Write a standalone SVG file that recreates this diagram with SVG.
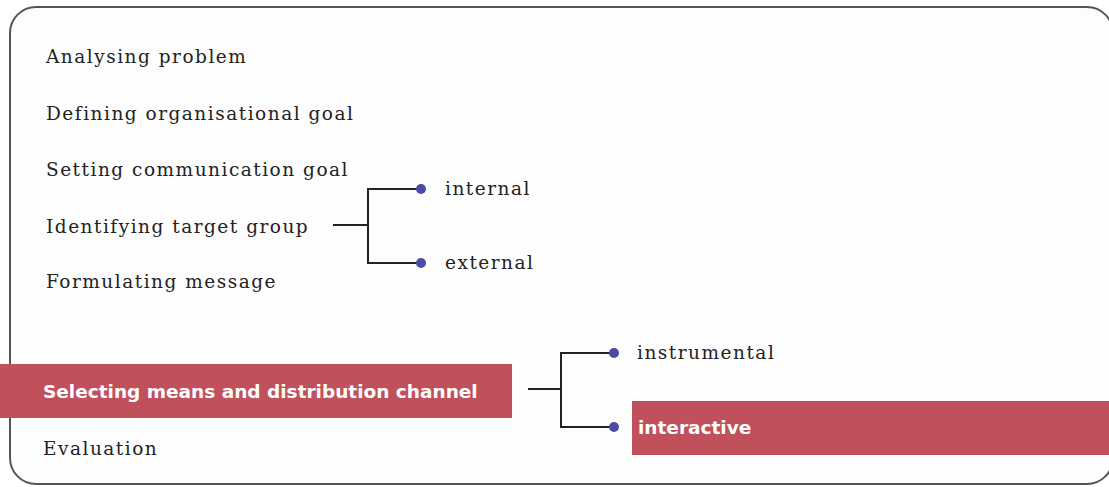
<svg xmlns="http://www.w3.org/2000/svg" width="1109" height="487" viewBox="0 0 1109 487">
  <style>
    .step { font-family: "DejaVu Serif", "Liberation Serif", serif; font-size: 18.5px; fill: #222; letter-spacing: 1.5px; }
    .hl { font-family: "DejaVu Sans", "Liberation Sans", sans-serif; font-size: 18.5px; font-weight: bold; fill: #fff; }
    .bar { fill: #c0515c; }
    .wire { fill: none; stroke: #222; stroke-width: 2; }
    .dot { fill: #4b4aa5; }
  </style>
  <rect x="0" y="0" width="1109" height="487" fill="#fff"/>
  <rect id="frame" x="10" y="7" width="1103" height="477" rx="26" ry="26" fill="#fdfdfd" stroke="#555" stroke-width="2"/>

  <g id="analysing"><text class="step" x="46" y="63">Analysing problem</text></g>
  <g id="defining"><text class="step" x="46" y="120">Defining organisational goal</text></g>
  <g id="setting"><text class="step" x="46" y="176">Setting communication goal</text></g>
  <g id="identifying"><text class="step" x="46" y="233">Identifying target group</text></g>
  <g id="formulating"><text class="step" x="46" y="288">Formulating message</text></g>
  <g id="selecting">
    <rect class="bar" x="0" y="364" width="512" height="54"/>
    <text class="hl" x="43" y="398">Selecting means and distribution channel</text>
  </g>
  <g id="evaluation"><text class="step" x="43" y="455">Evaluation</text></g>

  <g id="internal"><text class="step" x="445" y="195">internal</text></g>
  <g id="external"><text class="step" x="445" y="269">external</text></g>
  <g id="instrumental"><text class="step" x="637" y="359">instrumental</text></g>
  <g id="interactive">
    <rect class="bar" x="632" y="401" width="477" height="54"/>
    <text class="hl" x="638" y="434">interactive</text>
  </g>

  <g id="connectors">
    <path class="wire" d="M333 225 H368 M421 189 H368 V263 H421"/>
    <circle class="dot" cx="421" cy="189" r="5"/>
    <circle class="dot" cx="421" cy="263" r="5"/>
    <path class="wire" d="M528 389 H561 M614 353 H561 V427 H614"/>
    <circle class="dot" cx="614" cy="353" r="5"/>
    <circle class="dot" cx="614" cy="427" r="5"/>
  </g>
</svg>
